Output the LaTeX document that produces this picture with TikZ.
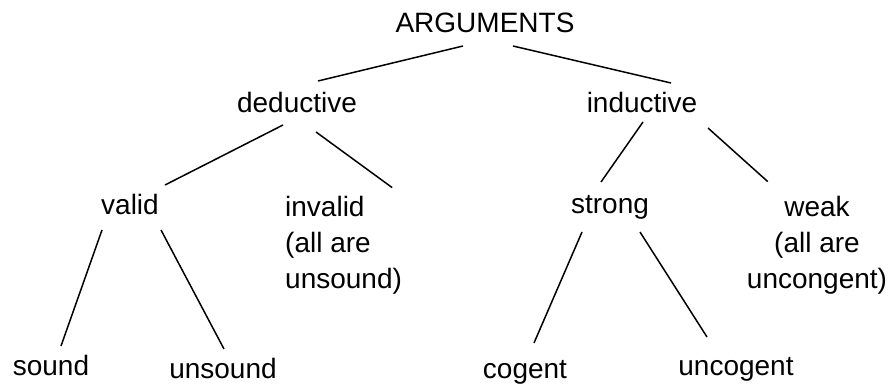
\documentclass[tikz,border=0pt]{standalone}
\usepackage{fontspec}
\setmainfont{Liberation Sans}
\usetikzlibrary{positioning,calc}

\begin{document}
\begin{tikzpicture}[x=1pt, y=-1pt, every node/.style={font=\fontsize{28}{36}\selectfont, inner sep=0pt, anchor=base}, branch/.style={line width=1.5pt}]
\useasboundingbox (0,0) rectangle (892,387);
% top and second level
\node (args) at (485,33) {ARGUMENTS};
\node (ded) at (297,113) {deductive};
\node (ind) at (642,113) {inductive};
% third level
\node (valid) at (130,215) {valid};
\node[anchor=north west, align=left] (inval) at (285,195.6) {invalid\\(all are\\unsound)};
\node (strong) at (610,214) {strong};
\node[anchor=north, align=center] (weak) at (817,195.6) {weak\\(all are\\uncongent)};
% leaves
\foreach \name/\x/\y/\txt in {snd/51/376/sound,unsnd/223/378/unsound,cog/525/379/cogent,uncog/736/376/uncogent} {
  \node (\name) at (\x,\y) {\txt};
}
\draw[branch] ([shift={(-22,13)}]args.base) -- ([shift={(21,-32)}]ded.base);
\draw[branch] ([shift={(28,13)}]args.base) -- ([shift={(29,-30)}]ind.base);
\draw[branch] ([shift={(-14,12)}]ded.base) -- ([shift={(35,-30)}]valid.base);
\draw[branch] ([shift={(19,19)}]ded.base) -- ([shift={(-10,-8)}]inval.north east);
\draw[branch] ([shift={(1,9)}]ind.base) -- ([shift={(-9,-32)}]strong.base);
\draw[branch] ([shift={(66,15)}]ind.base) -- ([shift={(21,-14)}]weak.north west);
\draw[branch] ([shift={(-28,15)}]valid.base) -- ([shift={(10,-30)}]snd.base);
\draw[branch] ([shift={(31,15)}]valid.base) -- ([shift={(1,-29)}]unsnd.base);
\draw[branch] ([shift={(-28,18)}]strong.base) -- ([shift={(9,-36)}]cog.base);
\draw[branch] ([shift={(30,18)}]strong.base) -- ([shift={(-29,-39)}]uncog.base);
\end{tikzpicture}
\end{document}
